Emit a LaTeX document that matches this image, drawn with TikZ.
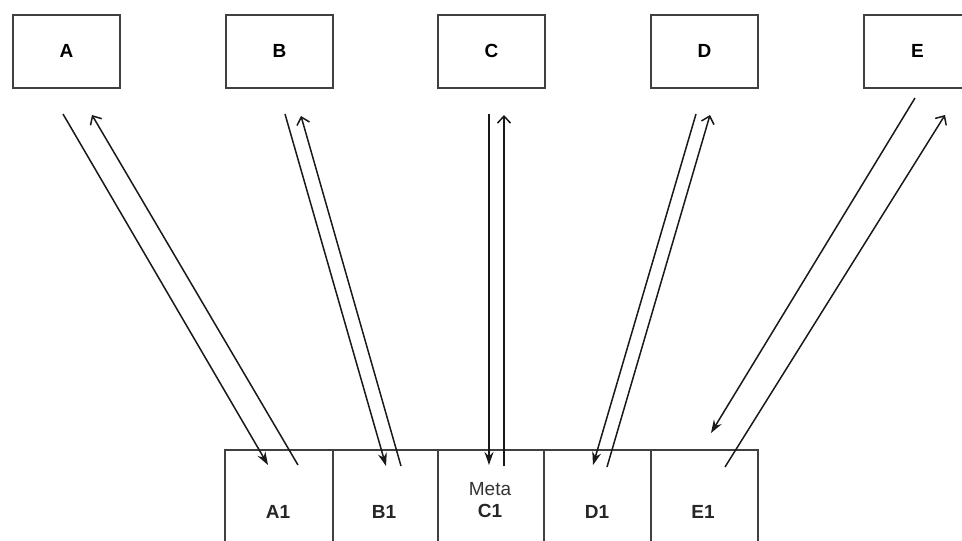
\documentclass[tikz,border=0pt]{standalone}
\usepackage{fontspec}
\setmainfont{Liberation Sans}
\usetikzlibrary{arrows.meta}
\begin{document}
\begin{tikzpicture}[x=1pt,y=-1pt,
  box/.style={draw=black!75, line width=1.8pt, minimum width=107pt, minimum height=73pt, anchor=north west, inner sep=0pt, font=\fontsize{19}{22}\selectfont\bfseries},
  cell/.style={draw=black!75, line width=1.8pt, minimum height=140pt, anchor=north west, inner sep=0pt},
  lbl/.style={font=\fontsize{19}{22}\selectfont\bfseries, text=black!85, inner sep=0pt},
  meta/.style={font=\fontsize{19}{22}\selectfont, text=black!80, inner sep=0pt},
  down/.style={draw=black!90, line width=1.5pt, -{Stealth[length=13pt,width=9pt]}},
  up/.style={draw=black!90, line width=1.5pt, -{Straight Barb[length=7pt,width=13pt]}}]
\useasboundingbox (0,0) rectangle (962,541);
% top boxes
\node[box] (A) at (12,14) {A};
\node[box] (B) at (225,14) {B};
\node[box] (C) at (437,14) {C};
\node[box] (D) at (650,14) {D};
\node[box] (E) at (863,14) {E};
% bottom cells
\node[cell, minimum width=108pt] (cA) at (224,449) {};
\node[cell, minimum width=105pt] (cB) at (332,449) {};
\node[cell, minimum width=106pt] (cC) at (437,449) {};
\node[cell, minimum width=107pt] (cD) at (543,449) {};
\node[cell, minimum width=107pt] (cE) at (650,449) {};
\node[lbl] (tA) at (278,512) {A1};
\node[lbl] (tB) at (384,512) {B1};
\node[meta] (tM) at (490,489) {Meta};
\node[lbl] (tC) at (490,511) {C1};
\node[lbl] (tD) at (597,512) {D1};
\node[lbl] (tE) at (703,512) {E1};
% connector end points
\coordinate (a1) at (63,114);  \coordinate (a2) at (268,465);
\coordinate (a3) at (298,465); \coordinate (a4) at (92,115);
\coordinate (b1) at (285,114); \coordinate (b2) at (386,466);
\coordinate (b3) at (401,466); \coordinate (b4) at (301,116);
\coordinate (c1) at (489,114); \coordinate (c2) at (489,465);
\coordinate (c3) at (504,466); \coordinate (c4) at (504,115);
\coordinate (d1) at (696,114); \coordinate (d2) at (593,465);
\coordinate (d3) at (607,467); \coordinate (d4) at (710,115);
\coordinate (e1) at (915,98);  \coordinate (e2) at (711,433);
\coordinate (e3) at (725,467); \coordinate (e4) at (945,115);
% connectors
\draw[down] (a1) -- (a2);
\draw[up] (a3) -- (a4);
\draw[down] (b1) -- (b2);
\draw[up] (b3) -- (b4);
\draw[down] (c1) -- (c2);
\draw[up] (c3) -- (c4);
\draw[down] (d1) -- (d2);
\draw[up] (d3) -- (d4);
\draw[down] (e1) -- (e2);
\draw[up] (e3) -- (e4);
\end{tikzpicture}
\end{document}
